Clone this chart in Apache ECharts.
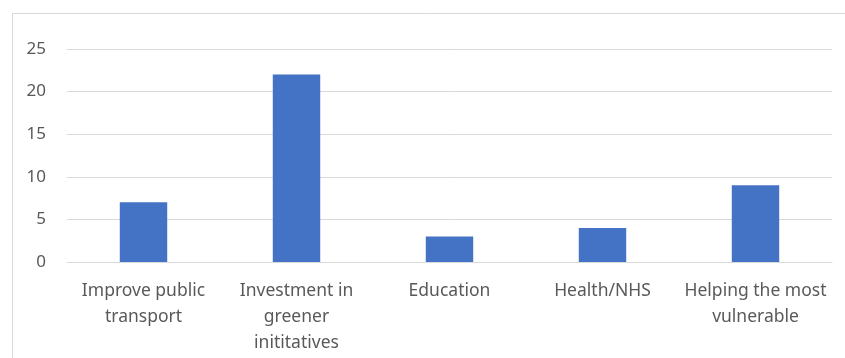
<!DOCTYPE html>
<html>
<head>
<meta charset="utf-8">
<script src="https://cdn.jsdelivr.net/npm/echarts@6/dist/echarts.min.js"></script>
<style>html,body{margin:0;padding:0;background:#fff;}#c{width:845px;height:358px;}</style>
</head>
<body>
<div id="c"></div>
<script>
const categories = ["Improve public\ntransport", "Investment in\ngreener\ninititatives", "Education", "Health/NHS", "Helping the most\nvulnerable"];
const values = [7, 22, 3, 4, 9];
const yTicks = [0, 5, 10, 15, 20, 25];

const chart = echarts.init(document.getElementById('c'), null, {renderer: 'canvas'});
chart.setOption({
  animation: false,
  backgroundColor: '#fff',
  graphic: [{
    type: 'rect', left: 10, top: 11, z: -1,
    shape: {x: 0, y: 0, width: 900, height: 400},
    style: {fill: 'none', stroke: '#d9d9d9', lineWidth: 1}
  }],
  grid: {left: 67, right: 13, top: 49, bottom: 96, containLabel: false},
  xAxis: {
    type: 'category', data: categories,
    axisLine: {show: true, lineStyle: {color: '#d9d9d9', width: 1}},
    axisTick: {show: false},
    axisLabel: {color: '#595959', fontFamily: 'Noto Sans', fontSize: 17.5, lineHeight: 26, margin: 16, interval: 0}
  },
  yAxis: {
    type: 'value', min: yTicks[0], max: yTicks[yTicks.length - 1], interval: 5,
    axisLine: {show: false}, axisTick: {show: false},
    splitLine: {lineStyle: {color: '#d9d9d9', width: 1}},
    axisLabel: {color: '#595959', fontFamily: 'Noto Sans', fontSize: 17, margin: 21}
  },
  series: [{
    type: 'bar', data: values, barWidth: '31%',
    itemStyle: {color: '#4472C4'}
  }]
});
</script>
</body>
</html>
